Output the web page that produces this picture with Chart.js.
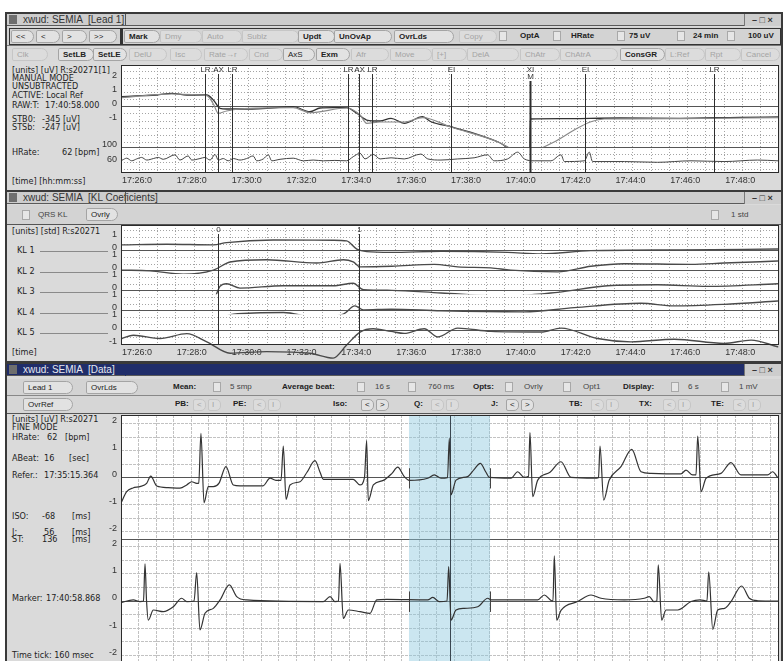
<!DOCTYPE html>
<html>
<head>
<meta charset="utf-8">
<title>xwud: SEMIA</title>
<script src="https://cdn.jsdelivr.net/npm/chart.js@4.4.1/dist/chart.umd.min.js"></script>
<style>
body{margin:0;width:783px;height:661px;overflow:hidden;position:relative;background:#fff;font-family:"Liberation Sans",Arial,sans-serif;color:#222}
.a{position:absolute;white-space:pre;box-sizing:border-box;z-index:1}
.frame{z-index:0;border:2px solid #3a3a3a;background:#dadada}
.bar{background:#cdcdcd;border-bottom:1px solid #5a5a5a}
.bar.on{background:#202d6a}
.ttl{font-size:10px;line-height:12px;color:#333}
.ttl.on{color:#e6e8f0}
.ico{width:8px;height:9px;background:#6e6e6e}
.ctl{font-size:9px;line-height:11px;font-weight:bold;color:#333}
.txt{font-family:"DejaVu Sans Condensed","DejaVu Sans",sans-serif;font-stretch:condensed;font-size:9px;line-height:10px;color:#222}
.btn{font-size:8px;line-height:11px;height:13px;padding-left:4px;border:1px solid #a4a4a4;border-radius:2px 7px 7px 2px;background:#e2e2e2;color:#222}
.btn.b{font-weight:bold}
.btn.g{color:#a4a4a4;border-color:#c6c6c6;background:#dcdcdc}
.tg{width:8px;height:10px;border:1px solid #a8a8a8;background:#e6e6e6}
.lb{font-size:8px;line-height:11px;color:#444}
.lb.b{font-weight:bold;color:#222}
canvas{position:absolute;z-index:2}
</style>
</head>
<body>
<canvas id="lead" width="679" height="123" style="left:100px;top:65px"></canvas>
<canvas id="kl" width="679" height="135" style="left:100px;top:225px"></canvas>
<canvas id="data" width="679" height="248" style="left:100px;top:415px"></canvas>
<script>
// ---- Lead 1 trend (x = minutes after 17:26:00) ----
var stTime  = [0.03,0.69,1.30,1.85,2.40,3.13,3.37,3.61,3.85,4.70,5.31,6.28,6.89,7.26,7.74,8.23,8.60,8.96,9.45,9.85,10.33,11.00,11.31,12.03,12.88,13.74,14.47,14.91,14.93,16.00,18.20,20.39,22.57,23.99];
var stLevel = [0.70,0.77,0.82,0.94,0.82,0.82,0.47,-0.11,-0.16,-0.16,-0.11,0.00,-0.35,-0.09,-0.07,-0.07,-0.46,-0.93,-1.00,-0.81,-1.16,-0.70,-1.05,-1.40,-1.86,-2.45,-3.15,-3.17,-0.86,-0.84,-0.79,-0.81,-0.74,-0.72];
var stRawTime  = [0.03,1.85,3.13,3.37,3.55,3.85,4.34,6.28,6.89,8.23,8.72,8.96,9.45,10.33,11.00,12.03,13.74,14.26,14.51,14.95,15.32,15.93,16.53,17.14,17.63,20.39,23.99];
var stRawLevel = [0.64,0.89,0.78,0.19,-0.46,-0.30,-0.16,-0.06,-0.41,-0.09,-0.58,-1.16,-1.07,-1.07,-0.76,-1.42,-2.45,-2.96,-3.03,-3.26,-2.91,-2.33,-1.63,-1.05,-0.86,-0.83,-0.76];
var hrTime  = [0.05,0.21,0.39,0.57,0.75,0.94,1.18,1.36,1.54,1.97,2.15,2.45,2.58,2.88,3.06,3.25,3.43,3.55,3.73,3.91,4.10,4.34,4.58,4.82,4.95,5.19,5.37,5.50,5.80,6.28,6.65,7.01,7.38,7.80,8.23,8.47,8.72,8.90,9.20,9.45,9.85,10.33,10.94,11.19,11.67,12.28,12.88,13.37,13.61,14.10,14.47,14.71,15.07,15.68,16.05,16.17,16.90,17.08,17.20,18.36,19.57,20.79,22.00,23.22,23.95];
var hrValue = [66,71,64,69,73,66,70,73,68,80,66,77,66,70,73,66,81,66,70,64,70,66,70,77,64,69,80,64,68,71,64,66,64,65,64,75,84,69,81,69,72,69,82,69,66,69,72,80,64,69,87,69,64,64,80,62,64,87,62,62,60,64,62,66,64];
var markTime = [3.06,3.54,4.05,8.28,8.68,9.15,12.04,14.92,16.92,21.63];
var markName = ['LR','AX','LR','LR','AX','LR','EI','XI','EI','LR'];

// ---- KL coefficients (same time base, std units) ----
var kl1Time  = [0.03,1.67,3.37,3.85,5.55,7.74,8.23,8.60,8.96,9.85,11.67,14.10,15.32,17.14,20.39,23.95];
var kl1Value = [0.44,0.49,0.44,0.61,0.81,0.79,0.74,0.12,-0.07,-0.13,-0.05,-0.13,-0.25,0.00,0.06,0.12];
var kl2Time  = [0.03,1.06,2.27,3.37,3.98,5.31,7.14,8.11,8.47,8.72,9.88,11.43,12.28,13.49,14.22,15.93,17.14,18.36,20.79,22.00,23.95];
var kl2Value = [0.04,-0.01,-0.26,0.04,0.66,0.83,0.58,0.83,0.66,0.29,0.34,0.48,0.29,0.21,0.04,-0.09,0.34,0.53,0.48,0.58,0.73];
var kl3Time  = [0.03,1.67,2.40,3.37,3.61,3.85,4.34,5.92,7.74,8.47,8.84,9.88,11.67,14.10,15.93,17.75,19.57,21.40,23.95];
var kl3Value = [-0.91,-1.03,-0.79,-0.66,0.33,0.53,0.20,0.38,0.38,0.57,0.08,0.03,-0.17,-0.41,-0.12,0.38,0.45,0.33,0.53];
var kl4Time  = [0.03,1.67,3.37,4.10,5.92,7.14,8.11,8.53,8.84,9.85,11.67,14.71,16.53,18.96,20.18,22.00,23.95];
var kl4Value = [-0.62,-0.87,-0.74,-0.25,-0.13,-0.50,-0.25,0.37,0.07,0.12,0.00,-0.08,0.24,0.57,0.37,0.49,0.74];
var kl5Time  = [0.03,0.45,1.42,2.40,3.13,3.98,5.31,6.89,7.74,8.23,8.72,9.20,9.85,10.33,11.06,11.55,12.28,13.49,15.32,16.05,17.38,18.60,20.18,22.00,22.98,23.95];
var kl5Value = [-0.58,-0.33,-0.58,-0.21,-0.83,-1.69,-1.57,-1.69,-2.06,-1.07,-0.09,0.16,-0.04,-0.19,0.16,-0.46,0.21,-0.04,-0.09,0.21,-0.58,-0.83,-0.63,-0.95,-0.70,-1.20];
var klMarkTime = [3.54,8.68];
var klMarkName = ['0','1'];

// ---- Data window, 6 s of ECG (x = seconds, y = mV) ----
var ecgTopTime  = [0.000,0.052,0.109,0.173,0.234,0.271,0.326,0.429,0.538,0.599,0.645,0.690,0.709,0.729,0.757,0.796,0.842,0.894,0.957,1.024,1.085,1.295,1.359,1.413,1.459,1.480,1.505,1.541,1.632,1.696,1.769,1.815,1.845,2.118,2.179,2.220,2.240,2.255,2.301,2.392,2.471,2.523,2.583,2.629,2.797,2.857,2.918,2.977,2.994,3.009,3.055,3.161,3.219,3.276,3.328,3.358,3.556,3.617,3.677,3.716,3.729,3.754,3.800,3.912,4.012,4.103,4.316,4.354,4.368,4.401,4.452,4.559,4.657,4.742,4.833,5.106,5.152,5.213,5.243,5.259,5.289,5.335,5.471,5.562,5.653,5.897,5.942,5.988];
var ecgTopValue = [-0.94,-0.52,-0.38,-0.33,-0.21,0.06,-0.31,-0.37,-0.39,-0.27,-0.15,-0.21,-0.20,1.64,-0.93,-0.33,-0.33,-0.20,0.41,-0.27,-0.30,-0.30,-0.02,-0.10,-0.10,1.17,-0.80,-0.27,-0.15,0.20,0.63,0.20,-0.06,-0.06,-0.27,0.00,1.37,-0.85,-0.27,-0.10,0.16,0.39,0.04,-0.10,-0.02,0.10,-0.02,0.00,1.46,-0.64,-0.09,0.04,0.30,0.53,0.20,0.01,-0.02,0.22,0.01,0.05,1.67,-0.70,-0.09,0.20,0.59,0.01,-0.02,0.00,1.17,-0.83,-0.09,0.41,1.05,0.22,0.16,0.14,0.28,0.10,0.10,1.54,-0.52,-0.02,0.16,0.56,0.10,0.10,0.22,0.01];
var ecgLowTime  = [0.000,0.112,0.173,0.205,0.219,0.233,0.249,0.295,0.386,0.477,0.553,0.599,0.666,0.690,0.720,0.766,0.842,0.903,0.988,1.055,1.146,1.845,1.906,1.951,1.983,1.997,2.027,2.073,2.179,2.270,2.332,2.423,2.797,2.843,2.902,2.973,2.988,3.009,3.055,3.130,3.253,3.344,3.374,3.800,3.860,3.921,3.939,3.951,3.973,4.012,4.164,4.286,4.377,4.589,4.772,4.817,4.860,4.886,4.899,4.930,4.970,5.076,5.198,5.280,5.343,5.359,5.396,5.441,5.503,5.562,5.660,5.729,5.806,6.000];
var ecgLowValue = [-0.06,0.04,-0.02,0.00,1.36,0.00,-0.70,-0.33,-0.39,-0.21,0.10,-0.02,0.00,1.04,-1.06,-0.45,-0.27,0.04,0.59,0.16,0.04,-0.02,0.16,-0.02,0.00,1.38,-0.64,-0.33,-0.39,-0.45,0.04,0.06,0.04,0.13,-0.02,0.00,1.26,-0.70,-0.33,-0.27,-0.21,0.10,0.04,0.04,0.22,0.02,0.00,1.65,-0.70,-0.34,-0.02,0.22,0.10,0.04,0.10,0.16,-0.02,0.00,1.32,-0.70,-0.33,-0.33,-0.02,0.04,0.00,1.07,-1.04,-0.33,-0.27,-0.02,0.55,0.10,0.01,0.00];
var avgFrom = 2.626, avgTo = 3.365, cursorAt = 3.003;

// ---------------- window furniture ----------------
function put(cls, x, y, text, css) {
  var d = document.createElement('div');
  d.className = 'a ' + cls;
  d.style.left = x + 'px';
  d.style.top = y + 'px';
  if (text) d.textContent = text;
  if (css) d.style.cssText += css;
  document.body.appendChild(d);
  return d;
}
function box(x, y, w, h, css) { return put('', x, y, '', 'width:' + w + 'px;height:' + h + 'px;' + (css || '')); }
function btn(x, y, w, label, kind) { return put('btn ' + (kind || ''), x, y, label, 'width:' + w + 'px'); }
function mini(x, y, label, kind) { return put('btn ' + (kind || ''), x, y, label, 'width:13px;height:12px;line-height:10px;padding-left:3px;border-radius:2px 5px 5px 2px'); }

function windowFrame(top, h, title, active) {
  put('frame', 5, top, '', 'width:778px;height:' + h + 'px');
  box(7, top + 2, 774, 12, '').className = 'a bar' + (active ? ' on' : '');
  put('ico', 9, top + 3);
  put('ttl' + (active ? ' on' : ''), 23, top + 2, title);
  box(125, top + 2, 1, 12, 'background:' + (active ? '#202d6a' : '#555'));
  box(744, top + 2, 37, 12, 'background:#cdcdcd;border-left:1px solid #777');
  put('ctl', 752, top + 3, '\u2013 \u25a1 \u00d7');
}

// Lead 1 window
windowFrame(12, 180, 'xwud: SEMIA  [Lead 1]', false);
box(7, 27, 774, 19, 'background:#d3d3d3;border-bottom:1px solid #777');
box(9, 28, 112, 17, 'border:1px solid #333');
box(121, 28, 660, 17, 'border:1px solid #333;border-left:2px solid #333');
[['<<',11,23,''],['<',36,24,''],['>',62,25,''],['>>',89,28,''],['Mark',124,36,'b'],['Dmy',160,42,'g'],['Auto',202,40,'g'],
 ['Sublz',242,57,'g'],['Updt',298,37,'b'],['UnOvAp',334,58,'b'],['OvrLds',394,60,'b'],['Copy',459,38,'g']].forEach(function (b) {
  btn(b[1], 30, b[2], b[0], b[3]);
});
[[499,'OptA',520],[553,'HRate',571],[617,'75 uV',629],[677,'24 min',693],[727,'100 uV',748]].forEach(function (t) {
  put('tg', t[0], 31); put('lb b', t[2], 30, t[1]);
});
box(7, 47, 774, 15, 'background:#d9d9d9');
[['Clk',12,36,'g'],['SetLB',58,36,'b'],['SetLE',93,34,'b'],['DelU',129,38,'g'],['Isc',170,32,'g'],['Rate\u2192r',204,44,'g'],
 ['Cnd',249,34,'g'],['AxS',283,32,''],['Exm',316,34,'b'],['Afr',351,38,'g'],['Move',390,42,'g'],['[+]',432,35,'g'],
 ['DelA',467,52,'g'],['ChAtr',520,40,'g'],['ChAtrA',560,58,'g'],['ConsGR',620,45,'b'],['L:Ref',665,40,'g'],['Rpt',705,36,'g'],['Cancel',741,39,'g']].forEach(function (b) {
  btn(b[1], 48, b[2], b[0], b[3]);
});
put('txt', 12, 65, '[units] [uV] R:s20271[1]');
put('txt', 12, 73, 'MANUAL MODE');
put('txt', 12, 81, 'UNSUBTRACTED');
put('txt', 12, 90, 'ACTIVE: Local Ref');
put('txt', 12, 100, 'RAW:T:'); put('txt', 45, 100, '17:40:58.000');
put('txt', 12, 114, 'STB0:'); put('txt', 42, 114, '-345 [uV]');
put('txt', 12, 122, 'STSb:'); put('txt', 42, 122, '-247 [uV]');
put('txt', 12, 147, 'HRate:'); put('txt', 62, 147, '62 [bpm]');
put('txt', 12, 176, '[time] [hh:mm:ss]');

// KL window
windowFrame(190, 173, 'xwud: SEMIA  [KL Coeficients]', false);
box(7, 205, 774, 20, 'background:#d3d3d3;border-bottom:1px solid #555');
put('tg', 22, 210); put('lb', 38, 209, 'QRS KL');
btn(86, 208, 32, 'Ovrly', '');
put('tg', 711, 210); put('lb', 731, 209, '1 std');
put('txt', 12, 226, '[units] [std] R:s20271');
[251, 272, 292, 313, 333].forEach(function (y, i) {
  put('txt', 17, y - 6, 'KL ' + (i + 1));
  box(40, y, 68, 1, 'background:#8a8a8a');
});
put('txt', 12, 347, '[time]');

// Data window
windowFrame(362, 302, 'xwud: SEMIA  [Data]', true);
box(7, 379, 774, 17, 'background:#d3d3d3;border-bottom:1px solid #888');
box(7, 396, 774, 18, 'background:#d6d6d6;border-bottom:1px solid #555');
btn(23, 381, 50, 'Lead 1', ''); btn(86, 381, 52, 'OvrLds', '');
put('lb b', 173, 381, 'Mean:'); put('tg', 213, 382); put('lb', 230, 381, '5 smp');
put('lb b', 282, 381, 'Average beat:'); put('tg', 357, 382); put('lb', 375, 381, '16 s');
put('tg', 408, 382); put('lb', 428, 381, '760 ms');
put('lb b', 473, 381, 'Opts:'); put('tg', 505, 382); put('lb', 524, 381, 'Ovrly');
put('tg', 563, 382); put('lb', 583, 381, 'Opt1');
put('lb b', 623, 381, 'Display:'); put('tg', 671, 382); put('lb', 688, 381, '6 s');
put('tg', 721, 382); put('lb', 739, 381, '1 mV');
btn(23, 398, 50, 'OvrRef', '');
[['PB:',175,193,'g'],['PE:',233,253,'g'],['Iso:',333,361,''],['Q:',414,431,'g'],['J:',491,506,''],['TB:',569,591,'g'],['TX:',639,663,'g'],['TE:',711,733,'g']].forEach(function (p) {
  put('lb b', p[1], 398, p[0]);
  mini(p[2], 399, '<', p[3]);
  mini(p[2] + 15, 399, p[3] ? 'I' : '>', p[3]);
});
put('txt', 12, 414, '[units] [uV] R:s20271');
put('txt', 12, 422, 'FINE MODE');
put('txt', 12, 432, 'HRate:'); put('txt', 47, 432, '62'); put('txt', 65, 432, '[bpm]');
put('txt', 12, 453, 'ABeat:'); put('txt', 44, 453, '16'); put('txt', 69, 453, '[sec]');
put('txt', 12, 470, 'Refer.:'); put('txt', 44, 470, '17:35:15.364');
put('txt', 12, 511, 'ISO:'); put('txt', 42, 511, '-68'); put('txt', 72, 511, '[ms]');
put('txt', 12, 527, 'J:'); put('txt', 44, 527, '56'); put('txt', 72, 527, '[ms]');
put('txt', 12, 534, 'ST:'); put('txt', 42, 534, '136'); put('txt', 72, 534, '[ms]');
put('txt', 12, 593, 'Marker:'); put('txt', 46, 593, '17:40:58.868');
put('txt', 12, 650, 'Time tick: 160 msec');

// ---------------- charts ----------------
Chart.defaults.font.family = '"Liberation Sans", Arial, sans-serif';
Chart.defaults.font.size = 9;
Chart.defaults.color = '#333';

function pts(xs, ys) { return xs.map(function (x, i) { return { x: x, y: ys[i] }; }); }

function xAxis(max, step, labelled, labelFn, gridColor, dash) {
  return {
    type: 'linear', min: 0, max: max, bounds: 'data',
    afterBuildTicks: function (s) { s.ticks = []; for (var v = 0; v <= max + 1e-6; v += step) s.ticks.push({ value: v }); },
    afterFit: function (s) { s.height = labelled ? 15 : 0; s.paddingLeft = 0; s.paddingRight = 0; },
    grid: { drawTicks: false, color: gridColor },
    border: { display: false, dash: dash },
    ticks: { display: labelled, autoSkip: false, maxRotation: 0, align: 'start', labelOffset: 1, padding: 2, callback: labelFn }
  };
}
function yAxis(stack, order, weight, min, max, ticks, labels, solid, dimColor, dash) {
  function isSolid(c) { return c.tick && solid.indexOf(c.tick.value) >= 0; }
  return {
    type: 'linear', position: 'left', stack: stack, weight: order, stackWeight: weight, min: min, max: max, bounds: 'data',
    afterBuildTicks: function (s) { s.ticks = ticks.map(function (v) { return { value: v }; }); },
    afterFit: function (s) { s.width = 21; s.paddingTop = 0; s.paddingBottom = 0; },
    grid: { drawTicks: false, color: function (c) { return isSolid(c) ? '#555' : dimColor; } },
    border: { display: false, dash: function (c) { return isSolid(c) ? [] : dash; } },
    ticks: { autoSkip: false, padding: 4, labelOffset: -3,
             callback: function (v) { return labels.indexOf(v) >= 0 ? String(v) : ''; } }
  };
}
function minuteLabel(v) {
  var k = Math.round(v * 3);
  return (k % 6 === 0 && k < 72) ? '17:' + (26 + k / 3) + ':0' : '';
}

var framePlugin = {
  id: 'framePlugin',
  beforeDraw: function (chart) {
    var a = chart.chartArea, c = chart.ctx;
    c.save(); c.fillStyle = '#fff'; c.fillRect(a.left, a.top, a.right - a.left, a.bottom - a.top); c.restore();
  },
  afterDraw: function (chart) {
    var a = chart.chartArea, c = chart.ctx;
    c.save(); c.strokeStyle = '#2b2b2b'; c.lineWidth = 1;
    c.strokeRect(a.left + 0.5, a.top + 0.5, a.right - a.left - 1, a.bottom - a.top - 1); c.restore();
  }
};
var markerPlugin = {
  id: 'markers',
  afterDatasetsDraw: function (chart, args, o) {
    var x = chart.scales.x, a = chart.chartArea, c = chart.ctx;
    c.save();
    c.font = '8px "Liberation Sans"'; c.textAlign = 'center'; c.textBaseline = 'top'; c.fillStyle = '#333';
    o.times.forEach(function (t, i) {
      var px = Math.round(x.getPixelForValue(t)) + 0.5;
      var wide = o.bold && o.bold[i];
      var start = a.top + (o.sub && o.sub[i] ? 16 : 9);
      c.strokeStyle = '#2e2e2e'; c.lineWidth = wide ? 2 : 1;
      c.beginPath(); c.moveTo(px, start); c.lineTo(px, a.bottom); c.stroke();
      c.fillText(o.names[i], px, a.top + 1);
      if (o.sub && o.sub[i]) c.fillText(o.sub[i], px, a.top + 8);
    });
    c.restore();
  }
};
var beatPlugin = {
  id: 'beat',
  beforeDatasetsDraw: function (chart, args, o) {
    var x = chart.scales.x, a = chart.chartArea, c = chart.ctx;
    var x0 = x.getPixelForValue(o.from), x1 = x.getPixelForValue(o.to);
    c.save();
    c.fillStyle = 'rgba(140,200,222,0.45)';
    c.fillRect(x0, a.top, x1 - x0, a.bottom - a.top);
    var xc = Math.round(x.getPixelForValue(o.cursor)) + 0.5;
    c.strokeStyle = '#3a4650'; c.lineWidth = 1;
    c.beginPath(); c.moveTo(xc, a.top); c.lineTo(xc, a.bottom); c.stroke();
    c.strokeStyle = '#444';
    ['ecgTop', 'ecgLow'].forEach(function (id) {
      var y = chart.scales[id];
      [x0, x1].forEach(function (px) {
        var p = Math.round(px) + 0.5;
        c.beginPath(); c.moveTo(p, y.getPixelForValue(0.35)); c.lineTo(p, y.getPixelForValue(-0.4)); c.stroke();
      });
    });
    c.restore();
  }
};

var common = {
  responsive: false, animation: false, events: [],
  layout: { padding: 0 },
  elements: { point: { radius: 0 }, line: { cubicInterpolationMode: 'monotone', borderCapStyle: 'round', borderJoinStyle: 'round' } },
  plugins: { legend: { display: false }, tooltip: { enabled: false } }
};
function opts(extra) { return Object.assign({}, common, extra, { plugins: Object.assign({}, common.plugins, extra.plugins || {}) }); }

// Lead 1 trend
new Chart(document.getElementById('lead'), {
  type: 'line',
  data: { datasets: [
    { data: pts(stRawTime, stRawLevel), yAxisID: 'st', borderColor: '#8a8a8a', borderWidth: 1.2 },
    { data: pts(stTime, stLevel), yAxisID: 'st', borderColor: '#333', borderWidth: 1.3 },
    { data: pts(hrTime, hrValue), yAxisID: 'hr', borderColor: '#444', borderWidth: 1 }
  ] },
  options: opts({
    scales: {
      x: xAxis(24, 2 / 3, true, minuteLabel, '#a4a4a4', [1, 2]),
      st: yAxis('lead', 2, 82.3, -2.84, 2.92, [-2.5, -2, -1.5, -1, -0.5, 0, 0.5, 1, 1.5, 2, 2.5], [2, 1, 0, -1], [0], '#a4a4a4', [1, 2]),
      hr: yAxis('lead', 1, 25.7, 31.5, 100, [40, 60, 80, 100], [100, 60], [100], '#a4a4a4', [1, 2])
    },
    plugins: { markers: { times: markTime, names: markName, bold: markName.map(function (n) { return n === 'XI'; }),
                          sub: markName.map(function (n) { return n === 'XI' ? 'M' : ''; }) } }
  }),
  plugins: [framePlugin, markerPlugin]
});

// KL coefficients, one band per coefficient
var klTicksMid = [1, 0.5, 0];
new Chart(document.getElementById('kl'), {
  type: 'line',
  data: { datasets: [
    { data: pts(kl1Time, kl1Value), yAxisID: 'k1' },
    { data: pts(kl2Time, kl2Value), yAxisID: 'k2' },
    { data: pts(kl3Time, kl3Value), yAxisID: 'k3' },
    { data: pts(kl4Time, kl4Value), yAxisID: 'k4' },
    { data: pts(kl5Time, kl5Value), yAxisID: 'k5', clip: false }
  ].map(function (d) { d.borderColor = '#4a4a4a'; d.borderWidth = 1.4; return d; }) },
  options: opts({
    scales: {
      x: xAxis(24, 2 / 3, true, minuteLabel, '#a4a4a4', [1, 2]),
      k1: yAxis('kl', 5, 29.8, -0.26, 1.95, [1.5, 1, 0.5, 0], [1, 0], [0], '#a4a4a4', [1, 2]),
      k2: yAxis('kl', 4, 20.55, -0.26, 1.26, klTicksMid, [1, 0], [0], '#a4a4a4', [1, 2]),
      k3: yAxis('kl', 3, 20.55, -0.26, 1.26, klTicksMid, [1, 0], [0], '#a4a4a4', [1, 2]),
      k4: yAxis('kl', 2, 20.55, -0.26, 1.26, klTicksMid, [1, 0], [0], '#a4a4a4', [1, 2]),
      k5: yAxis('kl', 1, 31.55, -1.07, 1.26, [1, 0.5, 0, -0.5, -1], [1, 0, -1], [0], '#a4a4a4', [1, 2])
    },
    plugins: { markers: { times: klMarkTime, names: klMarkName } }
  }),
  plugins: [framePlugin, markerPlugin]
});

// Data window: two ECG leads on a 160 ms grid
var mvTicks = [-2, -1.5, -1, -0.5, 0, 0.5, 1, 1.5, 2];
new Chart(document.getElementById('data'), {
  type: 'line',
  data: { datasets: [
    { data: pts(ecgTopTime, ecgTopValue), yAxisID: 'ecgTop', borderColor: '#333', borderWidth: 1.2 },
    { data: pts(ecgLowTime, ecgLowValue), yAxisID: 'ecgLow', borderColor: '#333', borderWidth: 1.2 }
  ] },
  options: opts({
    scales: {
      x: xAxis(6, 0.16, false, function () { return ''; }, '#c2c2c2', [3, 1]),
      ecgTop: yAxis('ecg', 2, 124, -2.27, 2.32, mvTicks.concat([-2.27]), [2, 1, 0, -1, -2], [0, -2.27], '#c2c2c2', [3, 1]),
      ecgLow: yAxis('ecg', 1, 124, -2.27, 2.27, mvTicks, [2, 1, 0, -1, -2], [0], '#c2c2c2', [3, 1])
    },
    plugins: { beat: { from: avgFrom, to: avgTo, cursor: cursorAt } }
  }),
  plugins: [framePlugin, beatPlugin]
});
</script>
</body>
</html>
